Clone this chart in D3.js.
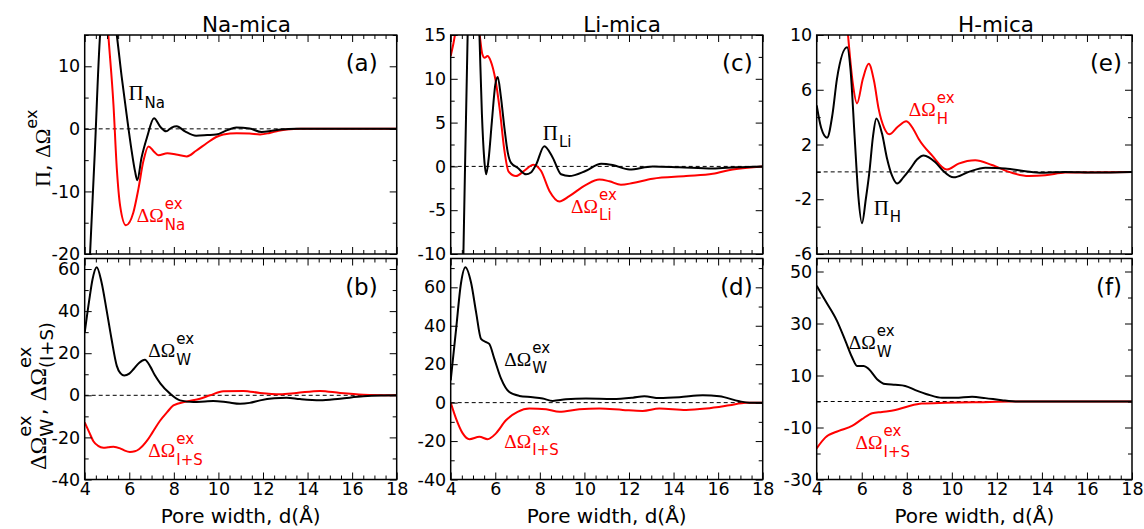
<!DOCTYPE html>
<html><head><meta charset="utf-8">
<script src="https://cdn.jsdelivr.net/npm/d3@7"></script>
<style>body{margin:0;background:#fff} svg{display:block}</style>
</head><body>
<svg id="chart" width="1144" height="529"></svg>
<script>
// ---------- data ----------
const xTicks = [4, 6, 8, 10, 12, 14, 16, 18];
const titles = ["Na-mica", "Li-mica", "H-mica"];
const xLabel = "Pore width, d(Å)";

const piNa = [[4.0,-40],[4.24,-20],[4.45,-4],[4.69,15],[5.05,24],[5.44,15],[5.66,8.3],[5.88,2.3],[6.11,-3.6],[6.26,-6.8],[6.36,-8.2],[6.55,-4.6],[6.8,-1.3],[7.11,1.7],[7.4,0.3],[7.65,-0.4],[7.9,0.2],[8.13,0.4],[8.5,-0.4],[9.0,-1.1],[9.5,-1.0],[9.9,-0.9],[10.4,-0.2],[10.8,0.2],[11.4,0.05],[11.94,-0.5],[12.4,-0.3],[12.8,-0.1],[13.5,0],[18,0]];
const omNa = [[4.6,40],[4.85,26],[5.06,15],[5.29,3.9],[5.44,-6.3],[5.59,-12.3],[5.85,-15.4],[6.18,-13.4],[6.41,-9.6],[6.63,-5.2],[6.86,-2.8],[7.1,-3.6],[7.31,-4.2],[7.71,-3.9],[8.1,-4.1],[8.58,-4.4],[9.0,-3.5],[9.47,-2.3],[9.9,-1.3],[10.22,-0.9],[10.82,-0.7],[11.4,-0.75],[11.87,-0.9],[12.3,-0.65],[12.7,-0.3],[13.07,-0.1],[13.7,0],[18,0]];
const wNa = [[4.0,29.8],[4.2,45],[4.35,55],[4.54,60.8],[4.75,54],[4.99,40],[5.2,27],[5.44,14],[5.6,10.5],[5.77,9.4],[6.0,10.3],[6.2,12.5],[6.45,15.5],[6.7,16.9],[6.95,13.5],[7.15,9.5],[7.4,5.6],[7.83,0.8],[8.28,-2.4],[8.88,-3.2],[9.4,-2.9],[9.77,-2.7],[10.4,-3.3],[10.97,-4.0],[11.4,-3.6],[11.87,-2.4],[12.5,-1.4],[13.06,-1.1],[13.66,-1.8],[14.56,-2.4],[15.46,-1.6],[16.5,-0.5],[17.3,-0.1],[18,0]];
const isNa = [[4.0,-12.9],[4.2,-17.5],[4.39,-21.8],[4.6,-24],[4.84,-24.9],[5.05,-24.7],[5.29,-24.4],[5.59,-25.2],[5.8,-26.3],[6.03,-26.9],[6.25,-26.6],[6.45,-25.5],[6.78,-21.8],[7.05,-17.5],[7.38,-12.1],[7.7,-8],[7.98,-4.8],[8.58,-2.9],[9.17,-1.6],[9.62,0],[10.22,1.9],[11.12,2.1],[11.87,1.1],[12.77,0.5],[13.5,1.1],[14.56,2.1],[15.46,1.1],[16.5,0.3],[18,0]];

const piLi = [[4.45,-25],[4.57,-10],[4.76,15],[5.0,35],[5.29,15],[5.4,6],[5.5,1],[5.59,-0.9],[5.7,0.8],[5.85,5.2],[6.0,9.3],[6.11,10.2],[6.25,8],[6.41,4.4],[6.56,1.6],[6.71,0.4],[7.0,-0.15],[7.38,-0.9],[7.6,-0.7],[7.83,0.2],[8.2,2.3],[8.58,1.0],[8.95,-0.9],[9.32,-1.1],[10.07,-0.5],[10.75,0.3],[11.27,0.15],[12.02,-0.35],[13.06,0],[14.26,-0.1],[15.76,-0.25],[16.8,-0.1],[18,0]];
const omLi = [[4.0,12.6],[4.19,15],[4.5,22],[4.9,22],[5.3,15],[5.42,12.8],[5.52,12.4],[5.65,12.6],[5.8,12.0],[6.0,10],[6.2,6.5],[6.4,2],[6.6,-0.6],[6.93,-1.1],[7.3,-0.5],[7.71,0.2],[8.05,-0.5],[8.43,-2.8],[8.88,-4.0],[9.32,-3.4],[10.07,-2.1],[10.67,-1.5],[11.12,-1.7],[11.64,-2.1],[12.17,-1.9],[13.06,-1.4],[14.56,-1.1],[15.76,-0.85],[16.65,-0.35],[18,0]];
const wLi = [[4.0,11.6],[4.24,38],[4.46,62],[4.66,70.4],[4.91,62.6],[5.14,47],[5.36,33.2],[5.59,31.5],[5.73,30.6],[5.96,22.8],[6.26,12.5],[6.63,5.5],[7.08,3.5],[7.68,2.8],[8.13,2.1],[8.58,0.9],[9.17,1.7],[10.07,2.1],[11.27,1.9],[12.17,2.6],[12.69,3.3],[13.36,2.4],[14.26,2.8],[15.31,3.8],[16.06,3.3],[16.95,0.7],[17.4,0],[18,0]];
const isLi = [[4.0,0],[4.24,-8.3],[4.54,-16],[4.84,-19],[5.29,-17.8],[5.66,-19],[6.03,-16],[6.48,-9.2],[7.0,-4.8],[7.53,-3.1],[8.28,-3.5],[8.88,-4.8],[9.77,-3.5],[10.67,-3.1],[11.72,-3.8],[12.61,-4.3],[13.36,-3.1],[14.56,-3.8],[15.46,-3.1],[16.5,-1.4],[17.25,0],[18,0]];

const piH = [[4.0,4.85],[4.2,3.2],[4.46,2.5],[4.7,4.2],[4.9,6.8],[5.35,9.1],[5.5,7.5],[5.69,2.4],[5.85,-1.8],[6.01,-3.75],[6.18,-2],[6.34,0],[6.5,2.6],[6.65,3.9],[6.9,2.8],[7.12,1.0],[7.35,-0.3],[7.57,-0.85],[7.85,-0.4],[8.16,0.24],[8.45,0.9],[8.75,1.2],[9.27,0.7],[9.6,0.1],[10.08,-0.4],[10.75,0],[11.49,0.3],[12.37,0.25],[13.26,0.05],[14.0,-0.07],[15.04,0],[16.37,-0.05],[18,0]];
const omH = [[5.1,16],[5.39,10],[5.6,6.5],[5.79,5.0],[6.05,6.8],[6.31,7.9],[6.55,6.6],[6.75,4.6],[7.0,3.2],[7.22,2.75],[7.6,3.3],[7.98,3.7],[8.3,3.1],[8.53,2.4],[9.12,1.2],[9.78,0.17],[10.3,0.6],[11.04,0.85],[11.78,0.5],[12.67,-0.07],[13.41,-0.3],[14.15,-0.25],[15.04,-0.05],[18,0]];
const wH = [[4.0,44.5],[4.38,38.8],[4.9,31],[5.27,23.4],[5.57,17],[5.79,13.7],[6.09,13.7],[6.31,12.5],[6.68,8.6],[7.05,6.7],[7.49,6.4],[7.93,6.0],[8.38,4.4],[8.97,2.6],[9.56,1.4],[10.15,1.4],[10.9,1.8],[11.49,1.3],[12.22,0.5],[12.96,0],[18,0]];
const isH = [[4.0,-18],[4.38,-13.9],[4.98,-11.3],[5.57,-9.4],[6.01,-6.8],[6.46,-4.5],[6.9,-4.0],[7.49,-3.3],[8.08,-1.8],[8.67,-0.8],[9.71,-0.5],[11.19,-0.25],[12.67,0],[18,0]];

// y ticks per panel
const yMajA = [-20,-10,0,10],        yMinA = d3.range(-20, 15.01, 5);
const yMajB = [-40,-20,0,20,40,60],  yMinB = d3.range(-40, 65.01, 10);
const yMajC = [-10,-5,0,5,10,15],    yMinC = d3.range(-10, 15.01, 2.5);
const yMajD = [-40,-20,0,20,40,60],  yMinD = d3.range(-40, 75.01, 10);
const yMajE = [-6,-2,2,6,10],        yMinE = d3.range(-6, 10.01, 2);
const yMajF = [-30,-10,10,30,50],    yMinF = d3.range(-30, 55.01, 10);

// ---------- layout ----------
const RED = "#ff0000", BLK = "#000000";
const SANS = "DejaVu Sans, Liberation Sans, Arial, sans-serif";
const SERIF = "Liberation Serif, Times New Roman, DejaVu Serif, serif";
const cols = [[84.7, 396.7], [450.7, 762.7], [816.7, 1132]];
const rows = [[254, 35], [479.5, 258.5]];
const titleX = [246.5, 622, 996];

const panels = [
  {c:0, r:0, tag:"(a)", dom:[-20,15], maj:yMajA, min:yMinA, series:[[omNa,RED],[piNa,BLK]],
   labels:[{x:5.96,y:4.6,m:"Π",sub:"Na",col:BLK},{x:6.33,y:-14.9,m:"ΔΩ",sup:"ex",sub:"Na",col:RED}]},
  {c:0, r:1, tag:"(b)", dom:[-40,65], maj:yMajB, min:yMinB, series:[[isNa,RED],[wNa,BLK]],
   labels:[{x:6.85,y:18,m:"ΔΩ",sup:"ex",sub:"W",col:BLK},{x:6.85,y:-29.5,m:"ΔΩ",sup:"ex",sub:"I+S",col:RED}]},
  {c:1, r:0, tag:"(c)", dom:[-10,15], maj:yMajC, min:yMinC, series:[[omLi,RED],[piLi,BLK]],
   labels:[{x:8.13,y:3.05,m:"Π",sub:"Li",col:BLK},{x:9.4,y:-5.3,m:"ΔΩ",sup:"ex",sub:"Li",col:RED}]},
  {c:1, r:1, tag:"(d)", dom:[-40,75], maj:yMajD, min:yMinD, series:[[isLi,RED],[wLi,BLK]],
   labels:[{x:6.4,y:19.1,m:"ΔΩ",sup:"ex",sub:"W",col:BLK},{x:6.4,y:-23.4,m:"ΔΩ",sup:"ex",sub:"I+S",col:RED}]},
  {c:2, r:0, tag:"(e)", dom:[-6,10], maj:yMajE, min:yMinE, series:[[omH,RED],[piH,BLK]],
   labels:[{x:8.09,y:4.06,m:"ΔΩ",sup:"ex",sub:"H",col:RED},{x:6.53,y:-3.13,m:"Π",sub:"H",col:BLK}]},
  {c:2, r:1, tag:"(f)", dom:[-30,55], maj:yMajF, min:yMinF, series:[[isH,RED],[wH,BLK]],
   labels:[{x:5.42,y:20.1,m:"ΔΩ",sup:"ex",sub:"W",col:BLK},{x:5.72,y:-18.3,m:"ΔΩ",sup:"ex",sub:"I+S",col:RED}]}
];

const svg = d3.select("#chart");
const minorX = d3.range(4, 18.01, 0.5).filter(v => v % 2 !== 0);

function styleAxis(g){
  g.select(".domain").remove();
  g.selectAll("line").attr("stroke", "#000").attr("stroke-width", 1);
  g.attr("font-family", SANS).attr("font-size", 17.5);
  g.selectAll("text").attr("fill", "#000");
}

panels.forEach((P, i) => {
  const xs = d3.scaleLinear([4, 18], cols[P.c]);
  const ys = d3.scaleLinear(P.dom, rows[P.r]);
  const g = svg.append("g");
  const [x0, x1] = cols[P.c];
  const [yb, yt] = rows[P.r];
  const clipId = "clip" + i;
  svg.append("clipPath").attr("id", clipId).append("rect")
    .attr("x", x0).attr("y", yt).attr("width", x1 - x0).attr("height", yb - yt);

  // zero dashed line
  g.append("line").attr("x1", xs(4)).attr("x2", xs(18)).attr("y1", ys(0)).attr("y2", ys(0))
    .attr("stroke", "#000").attr("stroke-width", 1).attr("stroke-dasharray", "4,3");

  const line = d3.line().x(d => xs(d[0])).y(d => ys(d[1])).curve(d3.curveMonotoneX);
  const cg = g.append("g").attr("clip-path", `url(#${clipId})`);
  P.series.forEach(([data, col]) => {
    cg.append("path").attr("d", line(data)).attr("fill", "none")
      .attr("stroke", col).attr("stroke-width", 2).attr("stroke-linejoin", "round");
  });

  const showX = P.r === 1;
  // bottom
  g.append("g").attr("transform", `translate(0,${yb})`)
    .call(d3.axisBottom(xs).tickValues(xTicks).tickSize(-7).tickPadding(3.5)
      .tickFormat(showX ? (d => String(d)) : () => "")).call(styleAxis);
  g.append("g").attr("transform", `translate(0,${yb})`)
    .call(d3.axisBottom(xs).tickValues(minorX).tickSize(-4).tickFormat(() => "")).call(styleAxis);
  // top
  g.append("g").attr("transform", `translate(0,${yt})`)
    .call(d3.axisTop(xs).tickValues(xTicks).tickSize(-7).tickFormat(() => "")).call(styleAxis);
  g.append("g").attr("transform", `translate(0,${yt})`)
    .call(d3.axisTop(xs).tickValues(minorX).tickSize(-4).tickFormat(() => "")).call(styleAxis);
  // left
  const minY = P.min.filter(v => !P.maj.includes(v));
  g.append("g").attr("transform", `translate(${x0},0)`)
    .call(d3.axisLeft(ys).tickValues(P.maj).tickSize(-7).tickPadding(4.5).tickFormat(d => String(d))).call(styleAxis);
  g.append("g").attr("transform", `translate(${x0},0)`)
    .call(d3.axisLeft(ys).tickValues(minY).tickSize(-4).tickFormat(() => "")).call(styleAxis);
  // right
  g.append("g").attr("transform", `translate(${x1},0)`)
    .call(d3.axisRight(ys).tickValues(P.maj).tickSize(-7).tickFormat(() => "")).call(styleAxis);
  g.append("g").attr("transform", `translate(${x1},0)`)
    .call(d3.axisRight(ys).tickValues(minY).tickSize(-4).tickFormat(() => "")).call(styleAxis);

  // frame
  g.append("rect").attr("x", x0).attr("y", yt).attr("width", x1 - x0).attr("height", yb - yt)
    .attr("fill", "none").attr("stroke", "#000").attr("stroke-width", 1.5);

  // panel tag
  g.append("text").attr("x", x1 - (P.c === 0 ? 19 : 10)).attr("y", yt + 36)
    .attr("text-anchor", "end").attr("font-family", SANS).attr("font-size", 23).text(P.tag);

  // curve labels
  P.labels.forEach(L => {
    const bx = xs(L.x), by = ys(L.y);
    const t = g.append("text").attr("x", bx).attr("y", by).attr("font-family", SERIF)
      .attr("font-size", L.m === "Π" ? 21 : 19.5).attr("fill", L.col).text(L.m);
    const w = t.node().getComputedTextLength();
    const sx = bx + w + 1;
    if (L.sup) g.append("text").attr("x", sx).attr("y", by - 13).attr("font-family", SANS)
      .attr("font-size", 15).attr("fill", L.col).text(L.sup);
    if (L.sub) g.append("text").attr("x", sx).attr("y", by + 7.5).attr("font-family", SANS)
      .attr("font-size", 15).attr("fill", L.col).text(L.sub);
  });

  // titles & x labels
  if (P.r === 0) {
    svg.append("text").attr("x", titleX[P.c]).attr("y", 31.5).attr("text-anchor", "middle")
      .attr("font-family", SANS).attr("font-size", 21.5).text(titles[P.c]);
  } else {
    svg.append("text").attr("x", (x0 + x1) / 2).attr("y", 523).attr("text-anchor", "middle")
      .attr("font-family", SANS).attr("font-size", 20).text(xLabel);
  }
});

// rotated y-axis titles built from pieces
function rotTitle(tx, ty, pieces) {
  const g = svg.append("g").attr("transform", `translate(${tx},${ty}) rotate(-90)`);
  let cursor = 0, prevStart = 0;
  pieces.forEach(p => {
    const x = p.stack ? prevStart : cursor;
    const t = g.append("text").attr("x", x).attr("y", p.dy || 0)
      .attr("font-family", p.serif ? SERIF : SANS).attr("font-size", p.size).text(p.t);
    const w = t.node().getComputedTextLength();
    if (!p.stack) prevStart = x;
    cursor = Math.max(cursor, x + w);
  });
}
rotTitle(50, 187, [
  {t:"Π", serif:true, size:22}, {t:",\u00A0", size:21}, {t:"ΔΩ", serif:true, size:21},
  {t:"ex", size:16, dy:-13}
]);
rotTitle(46, 470, [
  {t:"ΔΩ", serif:true, size:24}, {t:"ex", size:18, dy:-15}, {t:"W", size:18, dy:7, stack:true},
  {t:",\u00A0", size:22}, {t:"ΔΩ", serif:true, size:24}, {t:"ex", size:18, dy:-15},
  {t:"(I+S)", size:18, dy:7, stack:true}
]);
</script>
</body></html>
